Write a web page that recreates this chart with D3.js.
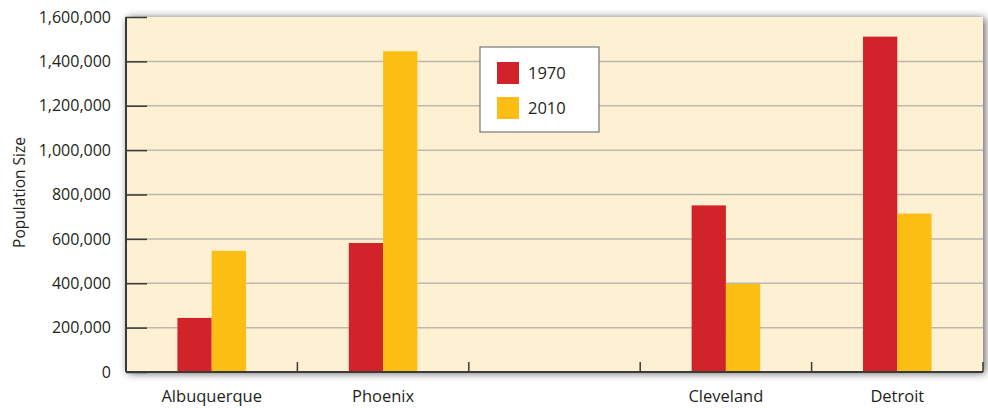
<!DOCTYPE html>
<html><head><meta charset="utf-8">
<script src="https://cdn.jsdelivr.net/npm/d3@7"></script>
<style>
body{margin:0;background:#fff;}
svg text{font-family:"Open Sans","Noto Sans",sans-serif;fill:#231f20;}
</style></head>
<body><svg id="c" width="988" height="408"></svg>
<script>
const categories = ["Albuquerque","Phoenix","","Cleveland","Detroit"];
const seriesNames = ["1970","2010"];
const values1970 = [243751, 581562, null, 750903, 1511482];
const values2010 = [545852, 1445632, null, 396815, 713777];
const yTicks = [0,200000,400000,600000,800000,1000000,1200000,1400000,1600000];
const colors = ["#d2232a","#fdbe14"];

const svg = d3.select("#c");
const m = {l:126, t:17, r:5, b:36};
const W = 988, H = 408;
const iw = W - m.l - m.r, ih = H - m.t - m.b;

const defs = svg.append("defs");
const f = defs.append("filter").attr("id","sh").attr("x","-5%").attr("y","-10%").attr("width","110%").attr("height","125%");
f.append("feDropShadow").attr("dx",2).attr("dy",1).attr("stdDeviation",4.5).attr("flood-color","#000").attr("flood-opacity",0.65);

const g = svg.append("g").attr("transform",`translate(${m.l},${m.t})`);
const x = d3.scaleBand().domain(d3.range(categories.length)).range([0,iw]).padding(0);
const y = d3.scaleLinear().domain([0,1600000]).range([ih,0]);

g.append("rect").attr("width",iw).attr("height",ih).attr("fill","#fef0d3").attr("filter","url(#sh)");

// gridlines
g.selectAll(".grid").data(yTicks.filter(d=>d>0 && d<1600000)).enter().append("line")
 .attr("x1",0).attr("x2",iw).attr("y1",d=>y(d)).attr("y2",d=>y(d))
 .attr("stroke","#bdb8ad").attr("stroke-width",1.5);

// bars
const inner = d3.scaleBand().domain([0,1]).range([0,x.bandwidth()]).paddingOuter(1.5).paddingInner(0);
const data = [values1970, values2010];
data.forEach((vals,si)=>{
  g.selectAll(".b"+si).data(vals.map((v,i)=>({v,i})).filter(d=>d.v!=null)).enter().append("rect")
   .attr("x",d=>x(d.i)+inner(si)).attr("width",inner.bandwidth())
   .attr("y",d=>y(d.v)).attr("height",d=>ih-y(d.v)).attr("fill",colors[si]);
});

// y axis
const ya = g.append("g").call(d3.axisLeft(y).tickValues(yTicks).tickFormat(d3.format(",")).tickSize(-21));
ya.select(".domain").attr("stroke","#3a3a3a").attr("stroke-width",2).attr("d",`M0,0V${ih}`);
ya.selectAll(".tick line").attr("stroke","#3a3a3a").attr("stroke-width",1.5);
ya.selectAll(".tick text").attr("font-size",16).attr("fill","#231f20").attr("x",-15);

// x axis
const xa = g.append("g").attr("transform",`translate(0,${ih})`);
xa.append("line").attr("x1",0).attr("x2",iw).attr("stroke","#3a3a3a").attr("stroke-width",2);
xa.selectAll(".xt").data(d3.range(1,categories.length+1)).enter().append("line")
 .attr("x1",d=>d===categories.length? iw : x(d)).attr("x2",d=>d===categories.length? iw : x(d))
 .attr("y1",0).attr("y2",-10).attr("stroke","#3a3a3a").attr("stroke-width",1.5);
xa.selectAll(".xl").data(categories).enter().append("text")
 .attr("x",(d,i)=>x(i)+x.bandwidth()/2).attr("y",30).attr("text-anchor","middle")
 .attr("font-size",16.5).text(d=>d);

// y label
svg.append("text").attr("transform",`translate(25,${m.t+ih/2 - 2}) rotate(-90)`)
 .attr("text-anchor","middle").attr("font-size",15.5).text("Population Size");

// legend
const lg = svg.append("g").attr("transform","translate(480,47)");
lg.append("rect").attr("width",119).attr("height",85).attr("fill","#fff").attr("stroke","#777").attr("stroke-width",1.2);
seriesNames.forEach((s,i)=>{
  lg.append("rect").attr("x",17).attr("y",15+i*35).attr("width",22).attr("height",22).attr("fill",colors[i]);
  lg.append("text").attr("x",48).attr("y",32+i*35).attr("font-size",16.5).text(s);
});
</script></body></html>
